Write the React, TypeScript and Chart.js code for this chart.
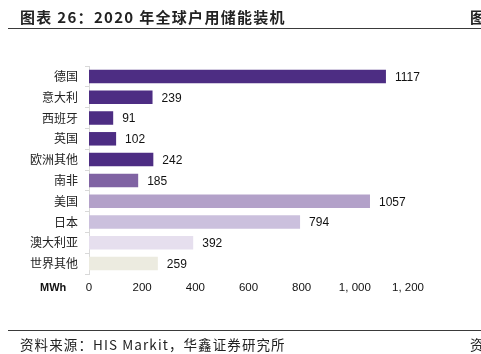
import React, { useEffect, useRef } from "react";
import { Chart, registerables } from "chart.js";

Chart.register(...registerables);

const categories = ["德国", "意大利", "西班牙", "英国", "欧洲其他", "南非", "美国", "日本", "澳大利亚", "世界其他"];
const values = [1117, 239, 91, 102, 242, 185, 1057, 794, 392, 259];
const barColors = ["#4d2d83", "#4d2d83", "#4d2d83", "#4d2d83", "#4d2d83", "#8063a3", "#b3a1c9", "#cbc0dd", "#e6dfee", "#ecebe0"];
const xTicks = [0, 200, 400, 600, 800, 1000, 1200];
const titleText = "图表 26：2020 年全球户用储能装机";
const sourceText = "资料来源：HIS Markit，华鑫证券研究所";
const unitText = "MWh";

const valueLabels = {
  id: "valueLabels",
  afterDatasetsDraw(chart: any) {
    const ctx = chart.ctx;
    const meta = chart.getDatasetMeta(0);
    ctx.save();
    ctx.font = "12px 'Liberation Sans', Arial, sans-serif";
    ctx.fillStyle = "#111";
    ctx.textAlign = "left";
    ctx.textBaseline = "middle";
    meta.data.forEach((bar: any, i: number) => {
      ctx.fillText(String(values[i]), bar.x + 9, bar.y + 1);
    });
    ctx.restore();
  },
};

export default function App() {
  const ref = useRef<HTMLCanvasElement | null>(null);
  useEffect(() => {
    if (!ref.current) return;
    const chart = new Chart(ref.current, {
      type: "bar",
      data: {
        labels: categories,
        datasets: [
          {
            data: values,
            backgroundColor: barColors,
            borderWidth: 0,
            barPercentage: 0.65,
            categoryPercentage: 1,
          },
        ],
      },
      options: {
        indexAxis: "y",
        animation: false,
        responsive: false,
        layout: { padding: { top: 66, right: 73, bottom: 50, left: 0 } },
        plugins: { legend: { display: false }, tooltip: { enabled: false }, title: { display: false } },
        scales: {
          x: {
            min: 0,
            max: 1200,
            afterFit: (s: any) => { s.height = 30; },
            afterBuildTicks: (s: any) => { s.ticks = xTicks.map((v) => ({ value: v })); },
            grid: { display: false, drawTicks: false },
            border: { display: false },
            ticks: {
              padding: 7,
              color: "#111",
              font: { family: "'Liberation Sans', Arial, sans-serif", size: 11.5 },
              callback: (v: any) => Number(v).toLocaleString("en-US").replace(",", ", "),
            },
          },
          y: {
            afterFit: (s: any) => { s.width = 89; },
            grid: { display: true, drawOnChartArea: false, drawTicks: true, tickLength: 4, color: "#d9d9d9", offset: true },
            border: { display: true, color: "#d9d9d9" },
            ticks: {
              padding: 7,
              color: "#222",
              font: { family: "'Noto Sans CJK SC', sans-serif", size: 12 },
            },
          },
        },
      },
      plugins: [valueLabels],
    });
    return () => chart.destroy();
  }, []);

  const cjk = "'Noto Sans CJK SC', 'Noto Sans', sans-serif";
  return (
    <div style={{ position: "fixed", left: 0, top: 0, width: 481, height: 354, overflow: "hidden", background: "#fff" }}>
      <canvas ref={ref} width={481} height={354} style={{ position: "absolute", left: 0, top: 0, width: 481, height: 354 }} />
      <div style={{ position: "absolute", left: 20, top: 6, fontFamily: cjk, fontWeight: 700, fontSize: 15, letterSpacing: 1.3, color: "#222", whiteSpace: "nowrap", lineHeight: "22px" }}>
        {titleText}
      </div>
      <div style={{ position: "absolute", left: 470, top: 6, fontFamily: cjk, fontWeight: 700, fontSize: 15, color: "#222", whiteSpace: "nowrap", lineHeight: "22px" }}>
        图
      </div>
      <div style={{ position: "absolute", left: 8, right: 0, top: 28, height: 1, background: "#3a3a3a" }} />
      <div style={{ position: "absolute", left: 40, top: 279, fontFamily: "'Liberation Sans Narrow', 'Liberation Sans', Arial, sans-serif", fontWeight: 700, fontSize: 11, color: "#111", whiteSpace: "nowrap", lineHeight: "16px" }}>
        {unitText}
      </div>
      <div style={{ position: "absolute", left: 8, right: 0, top: 330, height: 1, background: "#3a3a3a" }} />
      <div style={{ position: "absolute", left: 20, top: 335, fontFamily: cjk, fontSize: 13.5, letterSpacing: 1.1, color: "#222", whiteSpace: "nowrap", lineHeight: "18px" }}>
        {sourceText}
      </div>
      <div style={{ position: "absolute", left: 470, top: 335, fontFamily: cjk, fontSize: 13.5, color: "#222", whiteSpace: "nowrap", lineHeight: "18px" }}>
        资
      </div>
    </div>
  );
}
